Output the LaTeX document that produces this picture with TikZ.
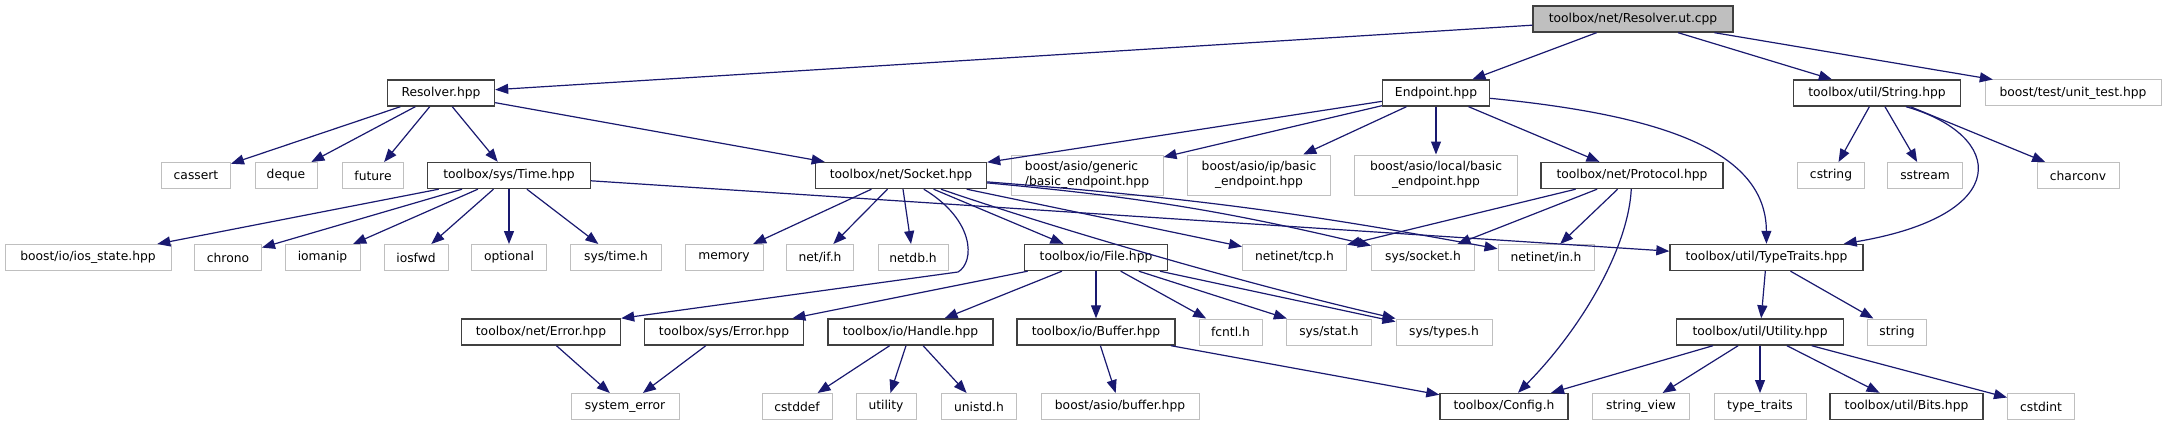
\documentclass[tikz,border=0pt]{standalone}
\usepackage{fontspec}
\setmainfont{DejaVu Sans}
\usetikzlibrary{arrows.meta,calc}
\definecolor{edgeblue}{HTML}{191970}
\definecolor{boxline}{HTML}{404040}
\definecolor{extline}{HTML}{BFBFBF}
\definecolor{rootfill}{HTML}{BFBFBF}

\begin{document}
\begin{tikzpicture}[x=1pt,y=-1pt,>={Triangle[length=13pt,width=10pt]},
  filebox/.style={rectangle,fill=white,inner sep=0pt,minimum height=26pt,align=center,font=\fontsize{12.3}{15}\selectfont},
  docbox/.style={filebox,draw=boxline,line width=1.4pt},
  extbox/.style={filebox,draw=extline,line width=1pt},
  rootbox/.style={filebox,draw=boxline,fill=rootfill,line width=1.4pt},
  dep/.style={->,edgeblue,line width=1.2pt}]
\useasboundingbox (0,0) rectangle (2167,425);
\fill[white] (0,0) rectangle (2167,425);

\node[rootbox,minimum width=200] (root) at (1633,19) {toolbox/net/Resolver.ut.cpp};

\node[docbox,minimum width=107] (res) at (441,93) {Resolver.hpp};
\node[docbox,minimum width=107] (endp) at (1436,93) {Endpoint.hpp};
\node[docbox,minimum width=167] (str) at (1877,93) {toolbox/util/String.hpp};
\node[extbox,minimum width=176] (utest) at (2073,93) {boost/test/unit\_test.hpp};

\node[extbox,minimum width=69] (cassert) at (196,175.5) {cassert};
\node[extbox,minimum width=62] (deque) at (286,175.5) {deque};
\node[extbox,minimum width=61] (future) at (373,175.5) {future};
\node[docbox,minimum width=163] (time) at (509,175.5) {toolbox/sys/Time.hpp};
\node[docbox,minimum width=171] (sock) at (901,175.5) {toolbox/net/Socket.hpp};
\node[extbox,minimum width=152,minimum height=40,align=left] (gen) at (1087,175) {boost/asio/generic\\/basic\_endpoint.hpp};
\node[extbox,minimum width=143,minimum height=40] (ipb) at (1259,175) {boost/asio/ip/basic\\\_endpoint.hpp};
\node[extbox,minimum width=163,minimum height=40] (locb) at (1436,175) {boost/asio/local/basic\\\_endpoint.hpp};
\node[docbox,minimum width=182] (proto) at (1632,175.5) {toolbox/net/Protocol.hpp};
\node[extbox,minimum width=67] (cstring) at (1831,175.5) {cstring};
\node[extbox,minimum width=75] (sstream) at (1925,175.5) {sstream};
\node[extbox,minimum width=82] (charconv) at (2078,175.5) {charconv};

\node[extbox,minimum width=166] (iosst) at (88,257.5) {boost/io/ios\_state.hpp};
\node[extbox,minimum width=67] (chrono) at (228,257.5) {chrono};
\node[extbox,minimum width=75] (iomanip) at (322.5,257.5) {iomanip};
\node[extbox,minimum width=64] (iosfwd) at (416,257.5) {iosfwd};
\node[extbox,minimum width=75] (optional) at (509,257.5) {optional};
\node[extbox,minimum width=91] (systime) at (616,257.5) {sys/time.h};
\node[extbox,minimum width=78] (memory) at (724,257.5) {memory};
\node[extbox,minimum width=67] (netif) at (820,257.5) {net/if.h};
\node[extbox,minimum width=70] (netdb) at (913,257.5) {netdb.h};
\node[docbox,minimum width=143] (file) at (1096,257.5) {toolbox/io/File.hpp};
\node[extbox,minimum width=104] (tcp) at (1294.5,257.5) {netinet/tcp.h};
\node[extbox,minimum width=103] (sysock) at (1423,257.5) {sys/socket.h};
\node[extbox,minimum width=96] (netin) at (1546,257.5) {netinet/in.h};
\node[docbox,minimum width=193] (tt) at (1766.5,257.5) {toolbox/util/TypeTraits.hpp};

\node[docbox,minimum width=159] (nerr) at (541,332) {toolbox/net/Error.hpp};
\node[docbox,minimum width=159] (serr) at (724,332) {toolbox/sys/Error.hpp};
\node[docbox,minimum width=165] (handle) at (910.5,332) {toolbox/io/Handle.hpp};
\node[docbox,minimum width=158] (buffer) at (1096,332) {toolbox/io/Buffer.hpp};
\node[extbox,minimum width=63] (fcntl) at (1230.5,332) {fcntl.h};
\node[extbox,minimum width=85] (sstat) at (1329,332) {sys/stat.h};
\node[extbox,minimum width=96] (stypes) at (1444,332) {sys/types.h};
\node[docbox,minimum width=167] (util) at (1760,332) {toolbox/util/Utility.hpp};
\node[extbox,minimum width=59] (string) at (1897,332) {string};

\node[extbox,minimum width=108] (syserr) at (625,406.5) {system\_error};
\node[extbox,minimum width=70] (cstddef) at (797,406.5) {cstddef};
\node[extbox,minimum width=60] (utility) at (886,406.5) {utility};
\node[extbox,minimum width=75] (unistd) at (979,406.5) {unistd.h};
\node[extbox,minimum width=158] (abuf) at (1120,406.5) {boost/asio/buffer.hpp};
\node[docbox,minimum width=128] (config) at (1504,406.5) {toolbox/Config.h};
\node[extbox,minimum width=97] (sview) at (1641,406.5) {string\_view};
\node[extbox,minimum width=92] (ttraits) at (1760,406.5) {type\_traits};
\node[docbox,minimum width=153] (bits) at (1906.5,406.5) {toolbox/util/Bits.hpp};
\node[extbox,minimum width=67] (cstdint) at (2041,406.5) {cstdint};

\draw[dep] (root)--(res); \draw[dep] (root)--(endp); \draw[dep] (root)--(str); \draw[dep] (root)--(utest);
\draw[dep] (res)--(cassert); \draw[dep] (res)--(deque); \draw[dep] (res)--(future);
\draw[dep] (res)--(time); \draw[dep] (res)--(sock);
\draw[dep] (time)--(iosst); \draw[dep] (time)--(chrono); \draw[dep] (time)--(iomanip); \draw[dep] (time)--(iosfwd);
\draw[dep] (time)--(optional); \draw[dep] (time)--(systime); \draw[dep] (time)--(tt);
\draw[dep] (sock)--(memory); \draw[dep] (sock)--(netif); \draw[dep] (sock)--(netdb); \draw[dep] (sock)--(file);
\draw[dep] (sock)--(tcp); \draw[dep] (sock) to[bend left=4] (sysock); \draw[dep] (sock) to[bend left=3] (netin);
\draw[dep] (sock) .. controls (975,220) and (975,262) .. (958,272) -- (nerr.north east);
\draw[dep] (sock) .. controls (1060,230) and (1250,285) .. (stypes.north west);
\draw[dep] (endp)--(sock); \draw[dep] (endp)--(gen); \draw[dep] (endp)--(ipb); \draw[dep] (endp)--(locb);
\draw[dep] (endp)--(proto);
\draw[dep] (endp) .. controls (1660,115) and (1766,150) .. (tt);
\draw[dep] (proto)--(tcp); \draw[dep] (proto)--(sysock); \draw[dep] (proto)--(netin);
\draw[dep] (proto) .. controls (1628,250) and (1580,330) .. ($(config.north)+(14,0)$);
\draw[dep] (str)--(cstring); \draw[dep] (str)--(sstream); \draw[dep] (str)--(charconv);
\draw[dep] ($(str.south)+(29,0)$) .. controls (2005,135) and (2015,215) .. ($(tt.north east)+(-20,0)$);
\draw[dep] (tt)--(util); \draw[dep] (tt)--(string);
\draw[dep] (util)--(config); \draw[dep] (util)--(sview); \draw[dep] (util)--(ttraits);
\draw[dep] (util)--(bits); \draw[dep] (util)--(cstdint);
\draw[dep] (file)--(serr); \draw[dep] (file)--(handle); \draw[dep] (file)--(buffer);
\draw[dep] (file)--(fcntl); \draw[dep] (file)--(sstat); \draw[dep] (file)--(stypes);
\draw[dep] (nerr)--(syserr); \draw[dep] (serr)--(syserr);
\draw[dep] (handle)--(cstddef); \draw[dep] (handle)--(utility); \draw[dep] (handle)--(unistd);
\draw[dep] (buffer)--(abuf); \draw[dep] (buffer)--(config);
\end{tikzpicture}
\end{document}
